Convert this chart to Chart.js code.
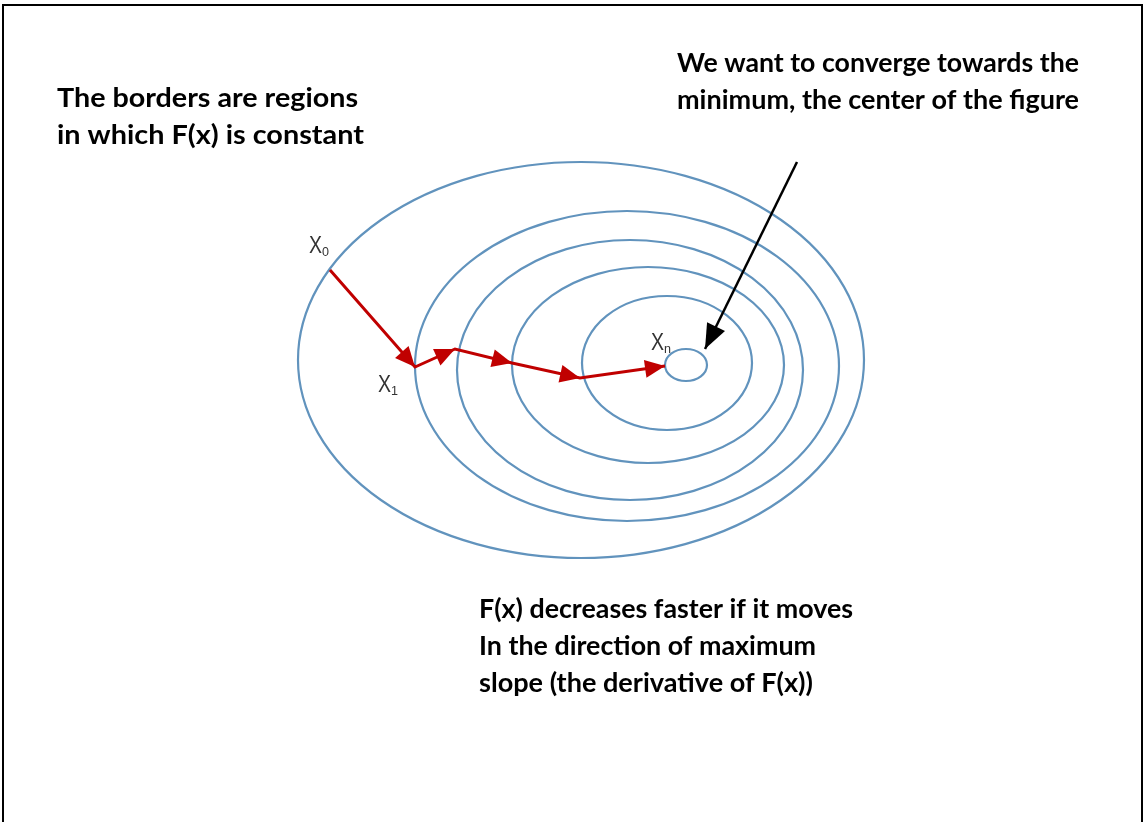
<!DOCTYPE html>
<html>
<head>
<meta charset="utf-8">
<script src="https://cdn.jsdelivr.net/npm/chart.js@4.4.0/dist/chart.umd.min.js"></script>
<style>
    html, body { margin: 0; padding: 0; background: #fff; }
    #wrap { position: relative; width: 1145px; height: 822px; }
</style>
</head>
<body>
<div id="wrap"><canvas id="diagram" width="1145" height="822"></canvas></div>
<script>
// Контурные линии F(x) = const (центр и полуоси в единицах схемы)
const contourCx = [581, 627, 630, 648, 667, 686];
const contourCy = [360, 366, 370, 365, 363, 365];
const contourRx = [283, 212, 173, 136, 85, 21];
const contourRy = [198, 155, 130, 98, 67, 16];

// Шаги градиентного спуска X0 -> Xn
const stepX = [330, 415, 455, 512, 580, 665];
const stepY = [270, 367, 349, 363, 378, 366];

// Черная стрелка к минимуму
const pointerX = [797, 705];
const pointerY = [162, 349];

// Подписи точек
const pointLabels = ["X", "X", "X"];
const pointSubs = ["0", "1", "n"];
const pointLabelX = [309, 378, 651];
const pointLabelY = [253, 392, 350];

// Текстовые блоки
const noteLines = [
    ["The borders are regions", "in which F(x) is constant"],
    ["We want to converge towards the", "minimum, the center of the figure"],
    ["F(x) decreases faster if it moves", "In the direction of maximum", "slope (the derivative of F(x))"]
];
const noteX = [57, 677, 479];
const noteY = [107, 72, 618];
const noteWidths = [[301, 307], [402, 402], [374, 337, 334]];

const toPoints = (xs, ys) => xs.map((x, i) => ({ x: x, y: ys[i] }));

function arrowHead(ctx, x0, y0, x1, y1, len, half, color) {
    const a = Math.atan2(y1 - y0, x1 - x0);
    ctx.save();
    ctx.fillStyle = color;
    ctx.beginPath();
    ctx.moveTo(x1, y1);
    ctx.lineTo(x1 - len * Math.cos(a) + half * Math.sin(a), y1 - len * Math.sin(a) - half * Math.cos(a));
    ctx.lineTo(x1 - len * Math.cos(a) - half * Math.sin(a), y1 - len * Math.sin(a) + half * Math.cos(a));
    ctx.closePath();
    ctx.fill();
    ctx.restore();
}

// растянуть строку до нужной ширины (Calibri шире, чем Lato)
function stretchText(ctx, text, x, y, width) {
    const w = ctx.measureText(text).width;
    ctx.save();
    ctx.translate(x, y);
    ctx.scale(width / w, 1);
    ctx.fillText(text, 0, 0);
    ctx.restore();
}

const diagramPlugin = {
    id: "diagram",
    beforeDatasetsDraw(chart) {
        const ctx = chart.ctx;
        const sx = chart.scales.x, sy = chart.scales.y;

        // рамка
        ctx.save();
        ctx.strokeStyle = "#000";
        ctx.lineWidth = 2;
        ctx.beginPath();
        ctx.moveTo(3, 830);
        ctx.lineTo(3, 5);
        ctx.lineTo(1142, 5);
        ctx.lineTo(1142, 830);
        ctx.stroke();
        ctx.restore();

        // эллипсы
        ctx.save();
        ctx.strokeStyle = "#6193bd";
        ctx.lineWidth = 2.2;
        contourCx.forEach((cx, i) => {
            const px = sx.getPixelForValue(cx);
            const py = sy.getPixelForValue(contourCy[i]);
            const rx = Math.abs(sx.getPixelForValue(cx + contourRx[i]) - px);
            const ry = Math.abs(sy.getPixelForValue(contourCy[i] + contourRy[i]) - py);
            ctx.beginPath();
            ctx.ellipse(px, py, rx, ry, 0, 0, Math.PI * 2);
            ctx.stroke();
        });
        ctx.restore();
    },
    afterDatasetsDraw(chart) {
        const ctx = chart.ctx;
        const sx = chart.scales.x, sy = chart.scales.y;

        // наконечники стрелок
        const steps = chart.getDatasetMeta(0).data;
        for (let i = 1; i < steps.length; i++) {
            arrowHead(ctx, steps[i - 1].x, steps[i - 1].y, steps[i].x, steps[i].y, 20, 9, "#c00000");
        }
        const ptr = chart.getDatasetMeta(1).data;
        arrowHead(ctx, ptr[0].x, ptr[0].y, ptr[1].x, ptr[1].y, 25, 10, "#000");

        // подписи X0, X1, Xn
        ctx.save();
        ctx.fillStyle = "#333";
        ctx.textBaseline = "alphabetic";
        pointLabels.forEach((t, i) => {
            const px = sx.getPixelForValue(pointLabelX[i]);
            const py = sy.getPixelForValue(pointLabelY[i]);
            ctx.font = "24px 'Liberation Sans'";
            stretchText(ctx, t, px, py, 13);
            ctx.font = "13px 'Liberation Sans'";
            stretchText(ctx, pointSubs[i], px + 13, py + 3, 7);
        });
        ctx.restore();

        // текстовые блоки
        ctx.save();
        ctx.fillStyle = "#000";
        ctx.strokeStyle = "#000";
        ctx.lineWidth = 0.4;
        ctx.font = "bold 26px Lato";
        noteLines.forEach((lines, b) => {
            lines.forEach((line, j) => {
                const px = sx.getPixelForValue(noteX[b]);
                const py = sy.getPixelForValue(noteY[b] + j * 37);
                stretchText(ctx, line, px, py, noteWidths[b][j]);
            });
        });
        ctx.restore();
    }
};

new Chart(document.getElementById("diagram"), {
    type: "scatter",
    data: {
        datasets: [{
            label: "steps",
            data: toPoints(stepX, stepY),
            showLine: true,
            borderColor: "#c00000",
            borderWidth: 3,
            pointRadius: 0,
            tension: 0
        }, {
            label: "pointer",
            data: toPoints(pointerX, pointerY),
            showLine: true,
            borderColor: "#000",
            borderWidth: 2.5,
            pointRadius: 0
        }]
    },
    options: {
        responsive: false,
        animation: false,
        devicePixelRatio: 1,
        layout: { padding: 0 },
        plugins: {
            legend: { display: false },
            tooltip: { enabled: false }
        },
        scales: {
            x: { type: "linear", min: 0, max: 1145, display: false },
            y: { type: "linear", min: 0, max: 822, reverse: true, display: false }
        }
    },
    plugins: [diagramPlugin]
});
</script>
</body>
</html>
